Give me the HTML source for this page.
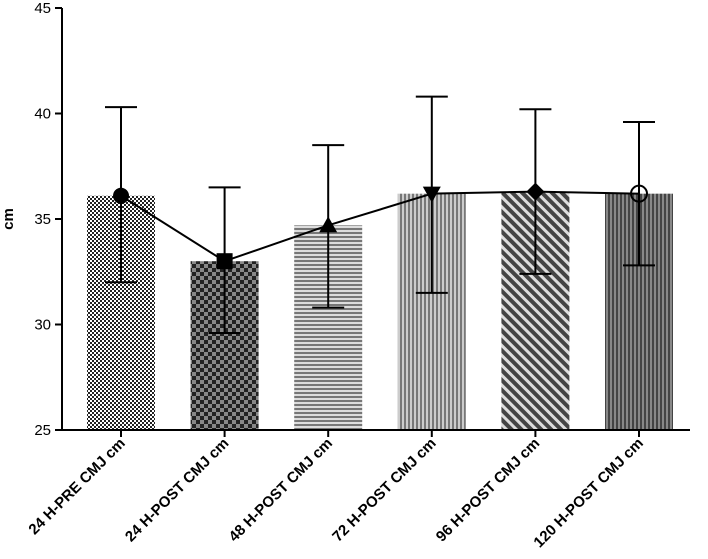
<!DOCTYPE html>
<html><head><meta charset="utf-8"><style>body{margin:0;background:#fff}svg{display:block;font-family:"Liberation Sans",sans-serif}</style></head>
<body>
<svg id="chart" width="708" height="559">
<defs>
<pattern id="p0" width="4" height="4" patternUnits="userSpaceOnUse"><rect width="4" height="4" fill="#fff"/><rect width="2" height="2" fill="#222"/><rect x="2" y="2" width="2" height="2" fill="#222"/></pattern>
<pattern id="p1" width="8" height="8" patternUnits="userSpaceOnUse"><rect width="8" height="8" fill="#888"/><rect width="4" height="4" fill="#222"/><rect x="4" y="4" width="4" height="4" fill="#222"/></pattern>
<pattern id="p2" width="4" height="4" patternUnits="userSpaceOnUse"><rect width="4" height="4" fill="#ddd"/><rect width="4" height="2" fill="#777"/></pattern>
<pattern id="p3" width="4" height="4" patternUnits="userSpaceOnUse"><rect width="4" height="4" fill="#ccc"/><rect width="2" height="4" fill="#777"/></pattern>
<pattern id="p4" width="7" height="7" patternUnits="userSpaceOnUse" patternTransform="rotate(-45)"><rect width="7" height="7" fill="#ddd"/><rect width="4" height="7" fill="#444"/></pattern>
<pattern id="p5" width="4" height="4" patternUnits="userSpaceOnUse"><rect width="4" height="4" fill="#888"/><rect width="2" height="4" fill="#444"/></pattern>
</defs>
<g id="plot"></g>
</svg>
<script>
const categories=["24 H-PRE CMJ cm","24 H-POST CMJ cm","48 H-POST CMJ cm","72 H-POST CMJ cm","96 H-POST CMJ cm","120 H-POST CMJ cm"];
const means=[36.1,33.0,34.7,36.2,36.3,36.2];
const lowErr=[32.0,29.6,30.8,31.5,32.4,32.8];
const highErr=[40.3,36.5,38.5,40.8,40.2,39.6];
const yTicks=[25,30,35,40,45];
const NS="http://www.w3.org/2000/svg";
const g=document.getElementById('plot');
const y=v=>430-(v-25)*(422/20);
const x=i=>121+i*103.6;
function el(t,a,txt){const e=document.createElementNS(NS,t);for(const k in a)e.setAttribute(k,a[k]);if(txt!=null)e.textContent=txt;g.appendChild(e);return e;}
let e;
categories.forEach((c,i)=>{
 e=el('rect',{x:x(i)-34,y:y(means[i]),width:68,height:430-y(means[i]),fill:'url(#p'+i+')'});
 
 
});
let d=means.map((m,i)=>(i?'L':'M')+x(i)+' '+y(m)).join(' ');
e=el('path',{d:d,fill:'none',stroke:'#000','stroke-width':2});


categories.forEach((c,i)=>{
 const cx=x(i);
 e=el('path',{d:`M${cx} ${y(lowErr[i])}V${y(highErr[i])}M${cx-16} ${y(lowErr[i])}H${cx+16}M${cx-16} ${y(highErr[i])}H${cx+16}`,stroke:'#000','stroke-width':2,fill:'none'});
 
 
 const cy=y(means[i]);let m;
 if(i==0)m=el('circle',{cx:cx,cy:cy,r:8,fill:'#000'});
 else if(i==1)m=el('rect',{x:cx-8,y:cy-8,width:16,height:16,fill:'#000'});
 else if(i==2)m=el('path',{d:`M${cx} ${cy-9}L${cx+9} ${cy+7}L${cx-9} ${cy+7}Z`,fill:'#000'});
 else if(i==3)m=el('path',{d:`M${cx} ${cy+9}L${cx+9} ${cy-7}L${cx-9} ${cy-7}Z`,fill:'#000'});
 else if(i==4)m=el('path',{d:`M${cx} ${cy-9}L${cx+9} ${cy}L${cx} ${cy+9}L${cx-9} ${cy}Z`,fill:'#000'});
 else m=el('circle',{cx:cx,cy:cy,r:8,fill:'none',stroke:'#000','stroke-width':2});
 
 
 e=el('line',{x1:cx,y1:430,x2:cx,y2:437,stroke:'#000','stroke-width':2});
 
 
 e=el('text',{transform:`translate(${cx+5},444) rotate(-45)`,'text-anchor':'end','font-size':15,'font-weight':'bold'},c);
 
 
});
e=el('path',{d:'M62 8V430H690',stroke:'#000','stroke-width':2,fill:'none'});


yTicks.forEach(t=>{
 e=el('line',{x1:55,y1:y(t),x2:62,y2:y(t),stroke:'#000','stroke-width':2});
 
 
 e=el('text',{x:51,y:y(t)+5,'text-anchor':'end','font-size':15},t);
 
 
});
e=el('text',{transform:'translate(13,219) rotate(-90)','text-anchor':'middle','font-size':15,'font-weight':'bold'},'cm');


</script>
</body></html>
